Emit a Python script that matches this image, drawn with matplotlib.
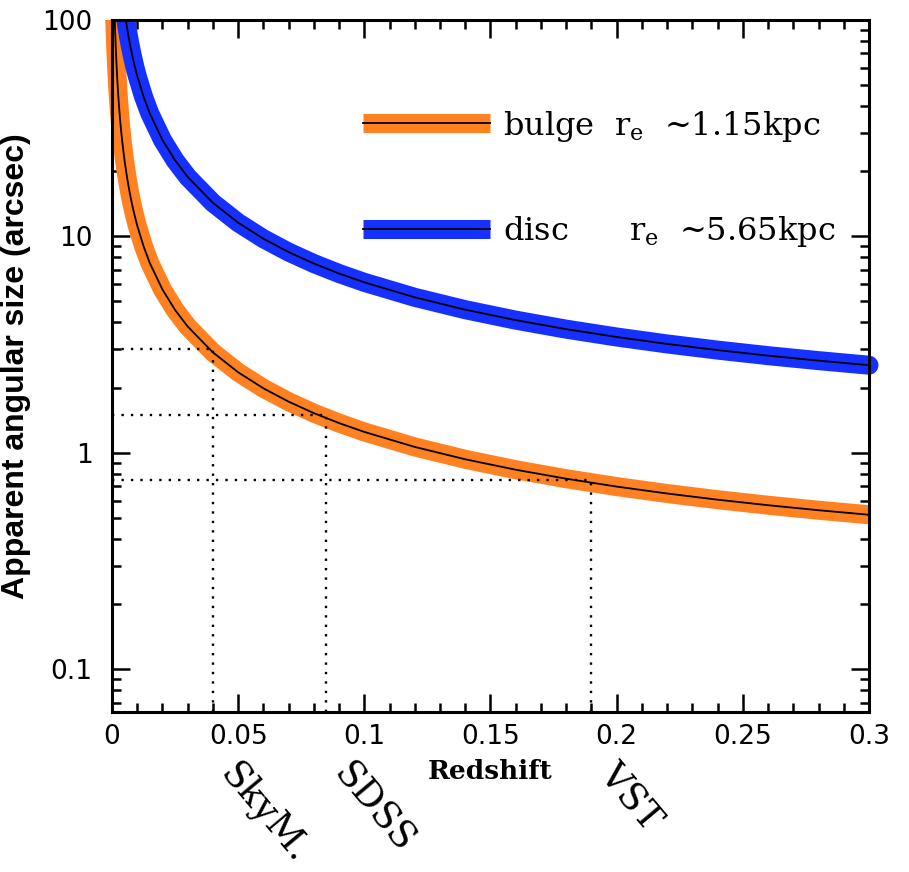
import matplotlib
matplotlib.use("Agg")
import matplotlib.pyplot as plt
from matplotlib.legend_handler import HandlerTuple
from matplotlib.lines import Line2D
from matplotlib.patches import Rectangle
import matplotlib.transforms as mtransforms

# redshift grid and apparent sizes (arcsec)
z_bulge = [0.001, 0.0012, 0.0015, 0.002, 0.0025, 0.003, 0.0035, 0.004, 0.005,
           0.006, 0.007, 0.008, 0.009, 0.01, 0.0125, 0.015, 0.02, 0.025, 0.03,
           0.04, 0.05, 0.06, 0.07, 0.08, 0.09, 0.1, 0.12, 0.14, 0.16, 0.18,
           0.2, 0.22, 0.24, 0.26, 0.28, 0.3]
size_bulge = [110.9, 92.5, 73.99, 55.53, 44.45, 37.06, 31.79, 27.83, 22.29,
              18.60, 15.96, 13.98, 12.45, 11.21, 9.00, 7.52, 5.676, 4.568, 3.829,
              2.907, 2.353, 1.984, 1.721, 1.523, 1.370, 1.247, 1.063, 0.932,
              0.834, 0.758, 0.697, 0.6475, 0.6063, 0.5716, 0.542, 0.5164]

z_disc = [0.005, 0.006, 0.007, 0.008, 0.009, 0.01, 0.0125, 0.015, 0.02, 0.025,
          0.03, 0.04, 0.05, 0.06, 0.07, 0.08, 0.09, 0.1, 0.12, 0.14, 0.16,
          0.18, 0.2, 0.22, 0.24, 0.26, 0.28, 0.3]
size_disc = [109.5, 91.38, 78.42, 68.70, 61.14, 55.10, 44.21, 36.95, 27.88,
             22.44, 18.81, 14.28, 11.56, 9.748, 8.454, 7.484, 6.730, 6.127,
             5.224, 4.580, 4.098, 3.723, 3.425, 3.181, 2.979, 2.808, 2.663, 2.537]

# survey resolution limits
surveys = ["SkyM.", "SDSS", "VST"]
survey_z = [0.04, 0.085, 0.19]
survey_size = [3.0, 1.5, 0.75]

orange = "#ff8122"
blue = "#1530ff"
band = 13.7
ymin, ymax = 0.0633, 100

plt.rcParams["mathtext.fontset"] = "dejavuserif"

fig = plt.figure(figsize=(9.09, 8.72), dpi=100)
ax = fig.add_axes([0.1232, 0.1835, 0.8328, 0.7936])

clip = Rectangle((-0.05, 0), 1.1, 1, transform=ax.transAxes, visible=False)
ax.add_patch(clip)

lines = [
    ax.plot(z_bulge, size_bulge, color=orange, lw=band, solid_capstyle="butt")[0],
    ax.plot(z_disc, size_disc, color=blue, lw=band, solid_capstyle="round")[0],
    ax.plot(z_bulge, size_bulge, color="black", lw=1.3)[0],
    ax.plot(z_disc, size_disc, color="black", lw=1.3)[0],
]
for ln in lines:
    ln.set_clip_path(clip)

for zs, ss in zip(survey_z, survey_size):
    ax.hlines(ss, 0, zs, colors="black", linestyles=(0, (1, 3)), lw=1.7)
    ax.vlines(zs, ymin, ss, colors="black", linestyles=(0, (1, 3)), lw=1.7)

trans = mtransforms.blended_transform_factory(ax.transData, ax.transAxes)
for name, zs in zip(surveys, survey_z):
    ax.text(zs, -0.064, name, transform=trans, rotation=-50,
            ha="left", va="top", fontsize=26.5, family="DejaVu Serif")

ax.set_yscale("log")
ax.set_xlim(0, 0.3)
ax.set_ylim(ymin, ymax)
ax.set_xticks([0, 0.05, 0.1, 0.15, 0.2, 0.25, 0.3])
ax.set_xticklabels(["0", "0.05", "0.1", "0.15", "0.2", "0.25", "0.3"])
ax.set_xticks([i * 0.01 for i in range(31)], minor=True)
ax.set_yticks([0.1, 1, 10, 100])
ax.set_yticklabels(["0.1", "1", "10", "100"])

ax.tick_params(which="both", direction="in", top=True, right=True, width=1.8,
               labelsize=19)
ax.tick_params(which="major", length=13, pad=9)
ax.tick_params(which="minor", length=6.5)
ax.tick_params(axis="y", which="major", pad=14)
for sp in ax.spines.values():
    sp.set_linewidth(2.2)

ax.set_xlabel("Redshift", fontsize=19, fontweight="bold", family="DejaVu Serif",
              labelpad=6)
ax.set_ylabel("Apparent angular size (arcsec)", fontsize=23, fontweight="bold",
              family="Liberation Sans", labelpad=8)

# legend keys: thick colour band with thin black line on top
handles = [
    (Line2D([], [], color=orange, lw=band, solid_capstyle="butt"),
     Line2D([], [], color="black", lw=1.3)),
    (Line2D([], [], color=blue, lw=band, solid_capstyle="butt"),
     Line2D([], [], color="black", lw=1.3)),
]
ax.legend(handles,
          ["bulge  $\\mathrm{r_e}$  ~1.15kpc", "disc      $\\mathrm{r_e}$  ~5.65kpc"],
          handler_map={tuple: HandlerTuple(ndivide=1)},
          loc="upper left", bbox_to_anchor=(0.3316, 0.872),
          frameon=False, borderpad=0, borderaxespad=0,
          handlelength=3.98, handletextpad=0.41, labelspacing=2.2,
          prop={"family": "DejaVu Serif", "size": 23})

fig.savefig("out.png", dpi=100)
